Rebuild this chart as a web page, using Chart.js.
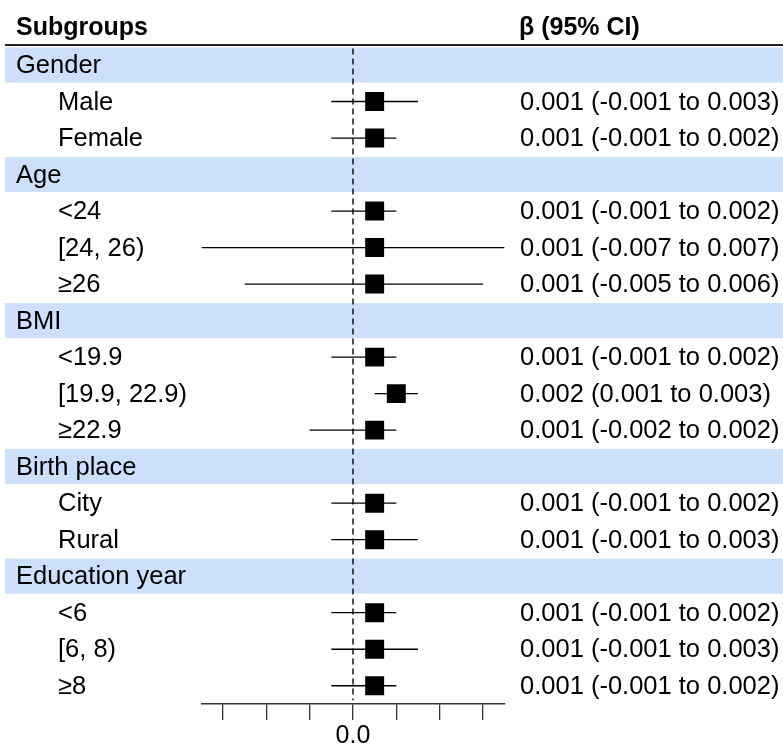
<!doctype html>
<html lang="en">
<head>
    <meta charset="UTF-8" />
    <title>Subgroup forest plot</title>
    <script src="https://cdn.jsdelivr.net/npm/chart.js"></script>
    <style>
        body { margin: 0; background: #ffffff; }
    </style>
</head>
<body>
    <canvas id="forest" width="783" height="744"></canvas>
    <script>
        // rows from top to bottom
        const rowLabels = ['Gender', 'Male', 'Female', 'Age', '<24', '[24, 26)', '\u226526',
            'BMI', '<19.9', '[19.9, 22.9)', '\u226522.9', 'Birth place', 'City', 'Rural',
            'Education year', '<6', '[6, 8)', '\u22658'];
        const groupRows = [0, 3, 7, 11, 14];
        const beta  = [null, 0.001, 0.001, null, 0.001, 0.001, 0.001, null, 0.001, 0.002, 0.001, null, 0.001, 0.001, null, 0.001, 0.001, 0.001];
        const lower = [null, -0.001, -0.001, null, -0.001, -0.007, -0.005, null, -0.001, 0.001, -0.002, null, -0.001, -0.001, null, -0.001, -0.001, -0.001];
        const upper = [null, 0.003, 0.002, null, 0.002, 0.007, 0.006, null, 0.002, 0.003, 0.002, null, 0.002, 0.003, null, 0.002, 0.003, 0.002];
        const xMin = -0.007, xMax = 0.007, xStep = 0.002;

        const FONT = '"Liberation Sans", Arial, sans-serif';

        function fmt(v) { return v.toFixed(3); }

        let datasets = [];

        // squares
        let pts = [];
        beta.forEach(function (b, i) {
            if (b !== null) pts.push({ x: b, y: i });
        });
        datasets.push({
            data: pts,
            pointStyle: 'rect',
            pointRadius: 13.4,
            backgroundColor: '#000000',
            borderColor: '#000000',
            borderWidth: 0,
            showLine: false,
            order: 0
        });

        // confidence interval lines
        beta.forEach(function (b, i) {
            if (b === null) return;
            datasets.push({
                data: [{ x: lower[i], y: i }, { x: upper[i], y: i }],
                showLine: true,
                pointRadius: 0,
                borderColor: '#000000',
                borderWidth: 1.3,
                order: 1
            });
        });

        // reference line at zero
        datasets.push({
            data: [{ x: 0, y: -0.45 }, { x: 0, y: 17.4 }],
            showLine: true,
            pointRadius: 0,
            borderColor: '#000000',
            borderWidth: 1.4,
            borderDash: [6, 4],
            order: 2
        });

        const tablePlugin = {
            id: 'tablePlugin',
            beforeDatasetsDraw(chart) {
                const c = chart.ctx;
                const y = chart.scales.y;
                c.save();
                c.fillStyle = '#cce0fb';
                groupRows.forEach(function (r) {
                    const top = y.getPixelForValue(r - 0.48);
                    const bot = y.getPixelForValue(r + 0.48);
                    c.fillRect(5, top, 783 - 5, bot - top);
                });
                // header rule
                c.strokeStyle = '#222222';
                c.lineWidth = 2;
                c.beginPath();
                c.moveTo(5, 45);
                c.lineTo(783, 45);
                c.stroke();
                c.restore();
            },
            afterDraw(chart) {
                const c = chart.ctx;
                const y = chart.scales.y;
                c.save();
                c.fillStyle = '#000000';
                c.textBaseline = 'middle';
                c.textAlign = 'left';
                c.font = 'bold 25px ' + FONT;
                c.fillText('Subgroups', 16, 28);
                c.fillText('\u03b2 (95% CI)', 519, 28);
                c.font = '25.5px ' + FONT;
                rowLabels.forEach(function (lab, i) {
                    const py = y.getPixelForValue(i) + 1;
                    const isGroup = groupRows.indexOf(i) >= 0;
                    c.fillText(lab, isGroup ? 16 : 58, py);
                    if (beta[i] !== null) {
                        c.fillText(fmt(beta[i]) + ' (' + fmt(lower[i]) + ' to ' + fmt(upper[i]) + ')', 520, py);
                    }
                });
                c.restore();
            }
        };

        new Chart(document.getElementById('forest'), {
            type: 'scatter',
            data: { datasets: datasets },
            plugins: [tablePlugin],
            options: {
                responsive: false,
                animation: false,
                devicePixelRatio: 1,
                layout: { padding: { left: 201.4, right: 278.4, top: 46.75, bottom: -8 } },
                plugins: { legend: { display: false }, tooltip: { enabled: false } },
                scales: {
                    x: {
                        type: 'linear',
                        min: xMin,
                        max: xMax,
                        position: 'bottom',
                        afterBuildTicks: function (axis) {
                            let t = [];
                            for (let v = -0.006; v <= 0.0061; v += xStep) t.push({ value: Math.round(v * 1000) / 1000 });
                            axis.ticks = t;
                        },
                        ticks: {
                            color: '#000000',
                            padding: 7,
                            maxRotation: 0,
                            autoSkip: false,
                            font: { family: FONT, size: 25, lineHeight: 0.72 },
                            callback: function (v) { return v === 0 ? '0.0' : ''; }
                        },
                        grid: {
                            drawOnChartArea: false,
                            drawTicks: true,
                            tickLength: 16,
                            color: '#333333',
                            lineWidth: 1.3
                        },
                        border: { display: true, color: '#333333', width: 1.5 }
                    },
                    y: {
                        type: 'linear',
                        min: -0.5,
                        max: 17.5,
                        reverse: true,
                        display: false
                    }
                }
            }
        });
    </script>
</body>
</html>
